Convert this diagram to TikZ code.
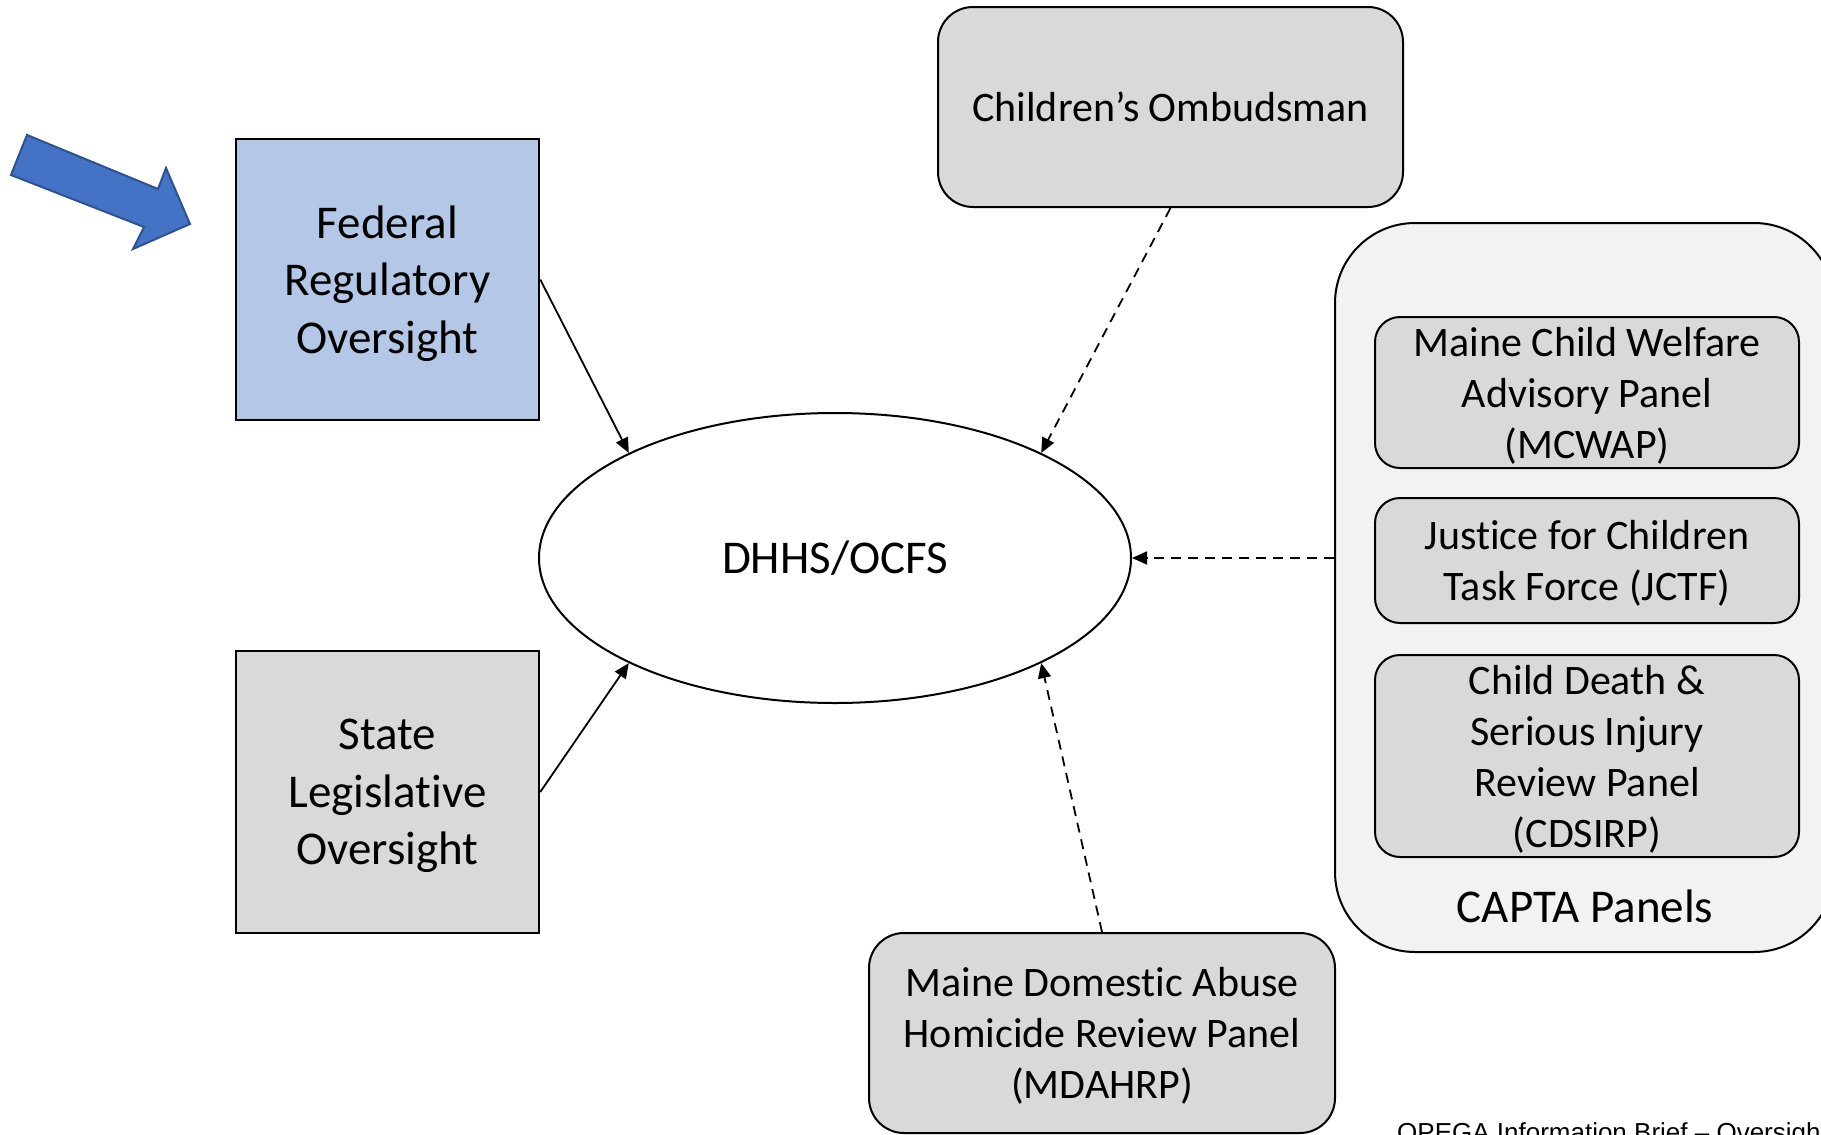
\documentclass[tikz,border=0pt]{standalone}
\usepackage{fontspec}
\setmainfont{Carlito}[Ligatures=NoCommon]
\newfontfamily\footfont{Liberation Sans}
\usepackage{xcolor}
\usetikzlibrary{shapes.geometric,arrows.meta}
\definecolor{boxgray}{HTML}{D9D9D9}
\definecolor{panelgray}{HTML}{F2F2F2}
\definecolor{fedblue}{HTML}{B4C7E7}
\definecolor{arrowblue}{HTML}{4472C4}
\definecolor{arrowedge}{HTML}{2F528F}
\tikzset{
  bigtext/.style={font=\fontsize{47}{57.5}\selectfont, align=center},
  smalltext/.style={font=\fontsize{42}{51}\selectfont, align=center},
  squarebox/.style={bigtext, draw=black, line width=2.5pt, inner sep=0pt, text depth=0pt},
  roundbox/.style={smalltext, draw=black, line width=2pt, fill=boxgray, rounded corners=35pt, inner sep=0pt, text depth=0pt},
  panelbox/.style={smalltext, draw=black, line width=2pt, fill=boxgray, rounded corners=25pt, inner sep=0pt, text depth=0pt, minimum width=424pt},
  link/.style={-{Triangle[length=15pt,width=13pt]}, line width=1.8pt},
  dep/.style={link, dash pattern=on 10pt off 7pt}
}

\begin{document}
\begin{tikzpicture}[x=1pt, y=-1pt]
  \useasboundingbox (0,0) rectangle (1821,1135);
  % pointer arrow
  \draw[arrowedge, fill=arrowblue, line width=2pt, line join=miter] (27,135) -- (158,189) -- (166,168) -- (190,224) -- (133,249) -- (144,227) -- (11,175) -- cycle;
  % oversight boxes
  \node[squarebox, fill=fedblue, minimum width=303pt, minimum height=281pt] (fed) at (387.5,279.5) {Federal\\Regulatory\\Oversight};
  \node[squarebox, fill=boxgray, minimum width=303pt, minimum height=282pt] (state) at (387.5,792) {State\\Legislative\\Oversight};
  \node[bigtext, ellipse, draw=black, line width=2pt, fill=white, minimum width=592pt, minimum height=290pt, inner sep=0pt] (ocfs) at (835,558) {DHHS/OCFS};
  \node[roundbox, minimum width=465pt, minimum height=200pt] (omb) at (1170.5,107) {Children’s Ombudsman};
  \node[roundbox, minimum width=466pt, minimum height=200pt] (mda) at (1102,1033) {Maine Domestic Abuse\\Homicide Review Panel\\(MDAHRP)};
  % CAPTA group
  \node[draw=black, line width=2pt, fill=panelgray, rounded corners=80pt, minimum width=499pt, minimum height=729pt, inner sep=0pt] (capta) at (1584.5,587.5) {};
  \node[panelbox, minimum height=151pt] (mcwap) at (1587,392.5) {Maine Child Welfare\\Advisory Panel\\(MCWAP)};
  \node[panelbox, minimum height=125pt] (jctf) at (1587,560.5) {Justice for Children\\Task Force (JCTF)};
  \node[panelbox, minimum height=202pt] (cdsirp) at (1587,756) {Child Death \&\\Serious Injury\\Review Panel\\(CDSIRP)};
  \node[bigtext] (captalabel) at (1585,906) {CAPTA Panels};
  % connectors
  \draw[link] (fed.east) -- (ocfs.153);
  \draw[link] (state.east) -- (ocfs.207);
  \draw[dep] (omb.south) -- (ocfs.27);
  \draw[dep] (mda.north) -- (ocfs.333);
  \draw[dep] (capta.west |- ocfs.east) -- (ocfs.east);
  % footer
  \node[font=\footfont\fontsize{26}{30}\selectfont, anchor=base west, inner sep=0pt] (foot) at (1397,1141) {OPEGA Information Brief – Oversight};
\end{tikzpicture}
\end{document}
